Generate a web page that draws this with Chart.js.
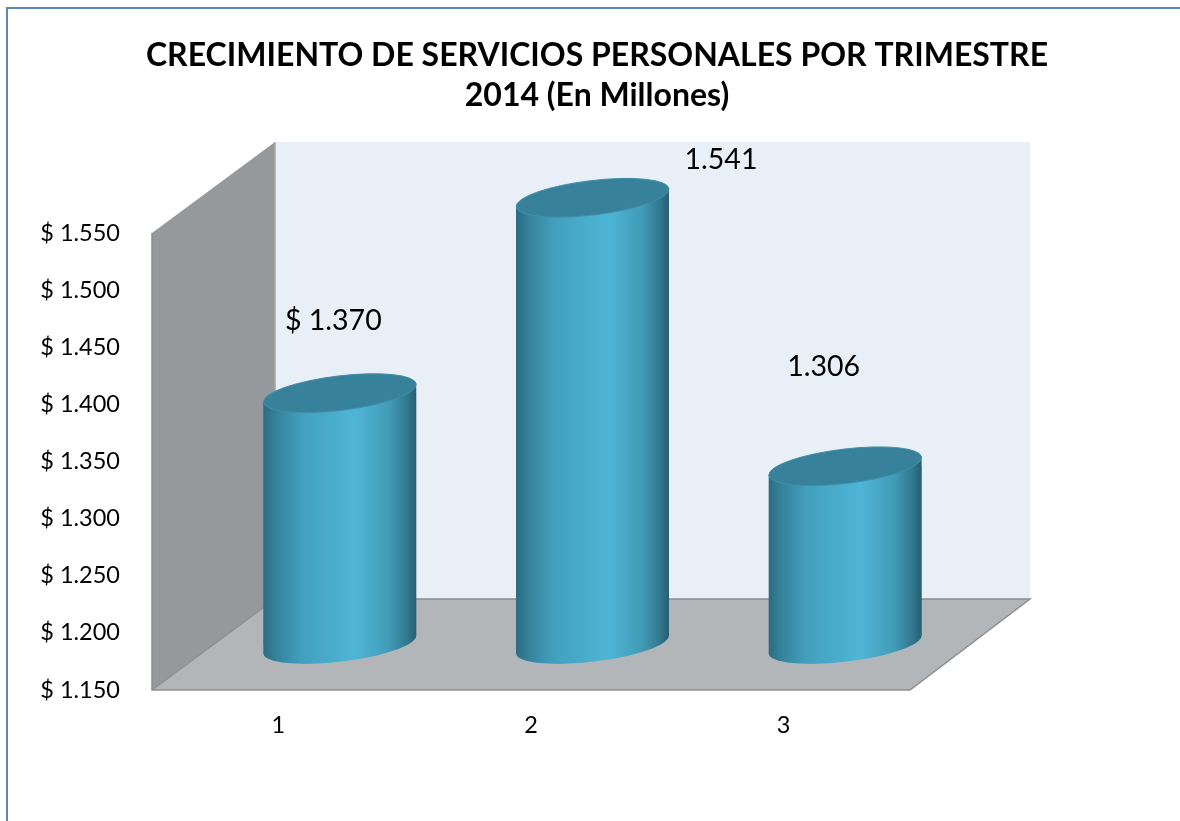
<!DOCTYPE html>
<html><head><meta charset="utf-8">
<style>html,body{margin:0;padding:0;background:#fff}#w{position:absolute;left:0;top:0;width:1180px;height:821px}
#f{position:absolute;left:6px;top:7px;right:0;bottom:0;border-left:2px solid #5b87bd;border-top:2px solid #5b87bd}</style>
<script src="https://cdn.jsdelivr.net/npm/chart.js@4"></script>
</head><body><div id="w"><canvas id="c" width="1180" height="821"></canvas></div><div id="f"></div>
<script>
const categories = ['1','2','3'];
const values = [1370,1541,1306];
const valueLabels = ['$ 1.370','1.541','1.306'];
const labelOffsets = [[55,-118],[190,-83],[40,-145]];
const titleLines = ['CRECIMIENTO DE SERVICIOS PERSONALES POR TRIMESTRE','2014 (En Millones)'];
const yMin = 1150, yMax = 1550, yStep = 50;
const depth = {x:123, y:91, rightInset:3};
const shift = {x:61.5, y:45.5};
const font = 'Lato';

function poly(ctx,pts,fill){
  ctx.beginPath();pts.forEach((p,i)=>i?ctx.lineTo(p[0],p[1]):ctx.moveTo(p[0],p[1]));ctx.closePath();
  ctx.fillStyle=fill;ctx.fill();
}
function bodyGradient(ctx,x,w){
  const g=ctx.createLinearGradient(x-w/2,0,x+w/2,0);
  g.addColorStop(0,'#2c6b80');g.addColorStop(0.07,'#347f98');g.addColorStop(0.25,'#43a0bd');
  g.addColorStop(0.6,'#4fb5d6');g.addColorStop(0.82,'#419cb8');g.addColorStop(0.94,'#32788f');g.addColorStop(1,'#285f70');
  return g;
}
const tilt=Math.atan(0.12);
const walls={id:'walls',beforeDatasetsDraw(chart){
  const {ctx,chartArea:a}=chart;
  const bl=[a.left,a.bottom],tl=[a.left,a.top],br=[a.right,a.bottom];
  const d=p=>[p[0]+depth.x,p[1]-depth.y];
  const bbl=d(bl),btl=d(tl),bbr=[a.right+depth.x-depth.rightInset,a.bottom-depth.y],btr=[bbr[0],btl[1]];
  ctx.save();
  poly(ctx,[btl,btr,bbr,bbl],'#e8eff6');
  poly(ctx,[tl,btl,bbl,bl],'#96999c');
  poly(ctx,[bl,bbl,bbr,br],'#b2b6b9');
  ctx.strokeStyle='#8c8e90';ctx.lineWidth=1.5;
  ctx.beginPath();ctx.moveTo(tl[0],tl[1]);ctx.lineTo(bl[0],bl[1]);ctx.lineTo(br[0],br[1]);ctx.lineTo(bbr[0],bbr[1]);ctx.lineTo(bbl[0],bbl[1]);ctx.lineTo(bl[0],bl[1]);ctx.stroke();
  ctx.beginPath();ctx.moveTo(bbl[0],bbl[1]);ctx.lineTo(btl[0],btl[1]);ctx.strokeStyle='#a4a7aa';ctx.stroke();
  ctx.restore();
}};
function ellipsePath(ctx,x,y,w){
  ctx.beginPath();ctx.ellipse(x,y,w/2+0.5,17.2,-tilt,0,Math.PI*2);
}
const cyl={id:'cyl',
  beforeDatasetDraw(chart,args){
    const {ctx}=chart,els=args.meta.data;
    ctx.save();ctx.translate(shift.x,-shift.y);
    els.forEach(e=>{ // rounded base and side silhouette of each cylinder
      const h=e.width/2,g=bodyGradient(ctx,e.x,e.width);
      ellipsePath(ctx,e.x,e.base,e.width);ctx.fillStyle=g;ctx.fill();
      poly(ctx,[[e.x-h,e.y+9],[e.x+h,e.y-9],[e.x+h,e.base-9],[e.x-h,e.base+9]],g);
    });
    ctx.beginPath();
    els.forEach(e=>{const h=e.width/2;
      ctx.moveTo(e.x-h,e.y+9);ctx.lineTo(e.x+h,e.y-9);ctx.lineTo(e.x+h,e.base-9);ctx.lineTo(e.x-h,e.base+9);ctx.closePath();});
    ctx.clip();
  },
  afterDatasetDraw(chart,args){
    const {ctx}=chart,els=args.meta.data;
    ctx.restore();
    ctx.save();ctx.translate(shift.x,-shift.y);
    els.forEach(e=>{ellipsePath(ctx,e.x,e.y,e.width);ctx.fillStyle='#37829a';ctx.fill();ctx.strokeStyle='#3f8fa8';ctx.lineWidth=1;ctx.stroke();});
    ctx.restore();
    ctx.save();ctx.fillStyle='#000';ctx.font='28.5px '+font;ctx.textAlign='center';ctx.textBaseline='middle';
    els.forEach((e,i)=>ctx.fillText(valueLabels[i],e.x+labelOffsets[i][0],e.y+labelOffsets[i][1]));
    ctx.restore();
  }};
new Chart(document.getElementById('c'),{
  type:'bar',
  data:{labels:categories,datasets:[{data:values,base:yMin,yAxisID:'y',clip:false,borderWidth:0,barPercentage:0.605,categoryPercentage:1,
    backgroundColor(c){const s=c.chart.scales.x;if(!s||!c.chart.chartArea)return '#4fb5d6';
      const px=s.getPixelForValue(c.dataIndex),w=s.width/categories.length*0.605;
      if(!isFinite(px)||!isFinite(w))return '#4fb5d6';
      return bodyGradient(c.chart.ctx,px,w);}}]},
  plugins:[walls,cyl],
  options:{responsive:false,animation:false,
    layout:{padding:{left:14,right:0,top:36,bottom:0}},
    plugins:{legend:{display:false},tooltip:{enabled:false},
      title:{display:true,text:titleLines,color:'#000',font:{family:font,size:32,weight:'bold',lineHeight:1.25},padding:{top:0,bottom:117}}},
    scales:{
      x:{grid:{display:false},border:{display:false},ticks:{color:'#000',font:{family:font,size:23.5},padding:13,maxRotation:0},
         afterFit(s){s.height=131;}},
      y:{min:yMin,max:yMax,grid:{display:false},border:{display:false},
         ticks:{stepSize:yStep,color:'#000',font:{family:font,size:23.5},padding:24,
           callback:v=>'$ '+String(v).replace(/(\d)(\d{3})$/,'$1.$2')},
         afterFit(s){s.width=138;}},
      spacer:{position:'right',display:true,grid:{display:false},border:{display:false},ticks:{display:false},
         afterFit(s){s.width=270;}}
    }}
});
</script></body></html>
